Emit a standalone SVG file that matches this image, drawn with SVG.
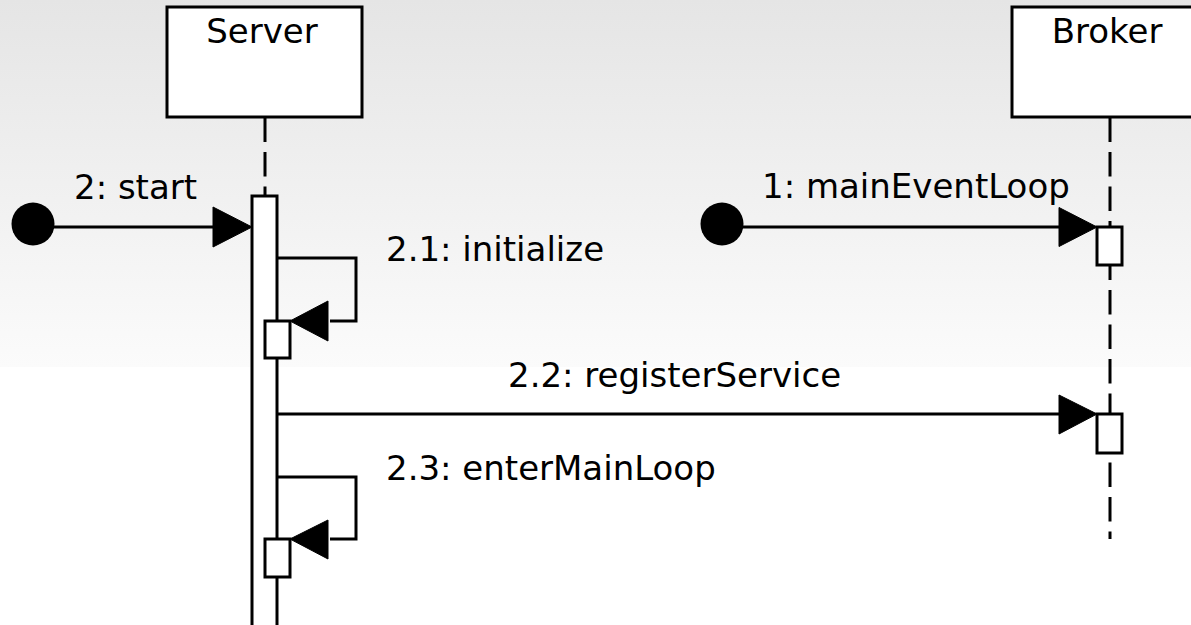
<svg xmlns="http://www.w3.org/2000/svg" width="1191" height="625" viewBox="0 0 1191 625">
<defs>
<linearGradient id="bg" x1="0" y1="0" x2="0" y2="1">
<stop offset="0" stop-color="#e5e5e5"/>
<stop offset="1" stop-color="#fbfbfb"/>
</linearGradient>
<style>
.box{fill:#fff;stroke:#000;stroke-width:3}
.act{fill:#fff;stroke:#000;stroke-width:3}
.life{fill:none;stroke:#000;stroke-width:3;stroke-dasharray:24.5 10}
.msg{fill:none;stroke:#000;stroke-width:3}
.head{fill:#000;stroke:#000;stroke-width:1;stroke-linejoin:round}
.dot{fill:#000}
text{font-family:"DejaVu Sans",sans-serif;font-size:34px;fill:#000}
</style>
</defs>
<rect x="0" y="0" width="1191" height="625" fill="#fff"/>
<rect x="0" y="0" width="1191" height="367" fill="url(#bg)"/>

<g id="server">
<line class="life" x1="265" y1="117.5" x2="265" y2="196"/>
<rect class="box" x="167" y="7" width="195" height="110"/>
<text x="262" y="43" text-anchor="middle">Server</text>
<rect class="act" x="252" y="196" width="25" height="435"/>
</g>

<g id="broker">
<line class="life" x1="1110" y1="117.5" x2="1110" y2="539"/>
<rect class="box" x="1012" y="7" width="196" height="110"/>
<text x="1107" y="43" text-anchor="middle">Broker</text>
<rect class="act" x="1097" y="227" width="25" height="38"/>
<rect class="act" x="1097" y="414" width="25" height="39"/>
</g>

<g id="start-initial">
<circle class="dot" cx="33" cy="224" r="21.5"/>
</g>
<g id="broker-initial">
<circle class="dot" cx="722" cy="224" r="21.5"/>
</g>

<g id="connectors">
<line class="msg" x1="33" y1="227" x2="215" y2="227"/>
<polygon class="head" points="252,227 213,207 213,247"/>
<text x="74" y="199">2: start</text>

<line class="msg" x1="722" y1="227" x2="1061" y2="227"/>
<polygon class="head" points="1097,227 1059,207.5 1059,246.5"/>
<text x="762" y="198">1: mainEventLoop</text>

<path class="msg" d="M277,258 H356 V321 H330"/>
<polygon class="head" points="290,321 328,301 328,341"/>
<text x="386" y="261">2.1: initialize</text>

<line class="msg" x1="277" y1="414" x2="1061" y2="414"/>
<polygon class="head" points="1097,414 1059,395 1059,434"/>
<text x="508" y="387">2.2: registerService</text>

<path class="msg" d="M277,477 H356 V539 H330"/>
<polygon class="head" points="290,539 328,520 328,559"/>
<text x="386" y="480">2.3: enterMainLoop</text>
</g>

<g id="self-activations">
<rect class="act" x="265" y="321" width="25" height="37"/>
<rect class="act" x="265" y="539" width="25" height="38"/>
</g>
</svg>
